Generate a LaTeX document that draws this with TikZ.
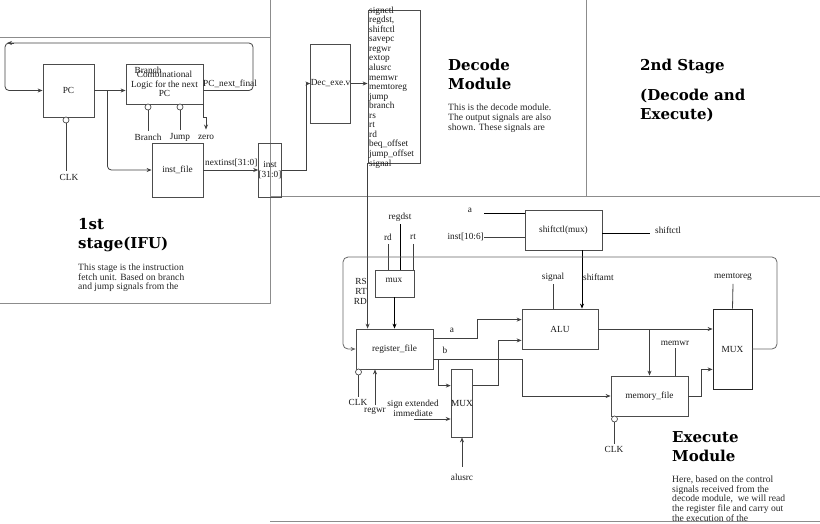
\documentclass[tikz,border=0pt]{standalone}
\usepackage{fontspec}
\setmainfont{Liberation Serif}
\newfontfamily\headfont{DejaVu Serif}
\usetikzlibrary{arrows.meta,calc}
\newcommand\smalllbl{\fontsize{9.3}{9.7}\selectfont}
\newcommand\siglist{\fontsize{9.3}{9.56}\selectfont}

\begin{document}
\begin{tikzpicture}[x=1pt,y=-1pt,
  region/.style={draw=black!45, line width=0.9pt},
  blk/.style={draw=black!70, line width=0.8pt, inner sep=0pt, font=\smalllbl, text=black!90},
  wire/.style={draw=black!75, line width=0.8pt},
  arr/.style={wire, -{Stealth[length=5pt,width=4pt]}},
  lbl/.style={font=\smalllbl, text=black!90, inner sep=0pt},
  bubble/.style={circle, draw=black!70, fill=white, line width=0.7pt, minimum size=6pt, inner sep=0pt},
  head/.style={font=\headfont\bfseries\fontsize{15}{19}\selectfont, align=left, anchor=north west, inner sep=0pt},
  para/.style={font=\fontsize{9.6}{9.8}\selectfont, text=black!85, align=left, anchor=north west, inner sep=0pt},
]
\useasboundingbox (0,0) rectangle (820,523);

% ---- stage borders ----
\draw[region] (0,37) -- (270,37);
\draw[region] (270,0) -- (270,303) -- (0,303);
\draw[region] (586,0) -- (586,196);
\draw[region] (270,196) -- (820,196);
\draw[region] (270,521) -- (820,521);

% ---- 1st stage: instruction fetch ----
\node[blk, minimum width=51pt, minimum height=53pt] (pc) at (68.5,90.5) {PC};
\node[blk, minimum width=77pt, minimum height=40pt, align=center] (comb) at (164.5,84) {Combinational\\Logic for the next\\PC};
\node[lbl] (combbr) at (148,70) {Branch};
\node[blk, minimum width=51pt, minimum height=54pt] (instfile) at (177.5,170) {inst\_file};
\node[blk, minimum width=20pt, minimum height=54pt, align=center] (inst) at (270,170) {inst\\{}[31:0]};

\node[lbl, anchor=west] (lpcnf) at (203,84) {PC\_next\_final};
\node[lbl, anchor=west] (lnext) at (205,163) {nextinst[31:0]};

\node[bubble] (pcclk) at (66,120) {};
\node[lbl] (clk1) at (69,177) {CLK};
\draw[wire] (pcclk.south) -- ($(pcclk.south |- clk1.north)+(0,-3)$);

\node[bubble] (bbr) at (148,107) {};
\node[bubble] (bj) at (180,107) {};
\node[lbl] (lbranch) at (148,137) {Branch};
\node[lbl] (ljump) at (180,137) {Jump};
\node[lbl] (lzero) at (206,137) {zero};
\draw[wire] (bbr.south) -- ($(bbr.south |- lbranch.north)+(0,-3)$);
\draw[wire] (bj.south) -- ($(bj.south |- ljump.north)+(0,-3)$);
\draw[arr] (comb.south east) -- ++(0,13) -| ($(lzero.north)+(0,-5)$);

\draw[arr] (pc.east) -- (comb.west |- pc.east);
\draw[arr, rounded corners=4pt] ($(pc.east)+(13,0)$) |- (instfile.west);
\draw[arr] (instfile.east) -- (inst.west);

\coordinate (fbR) at (253,43);
\coordinate (fbL) at (5,43);
\draw[arr, rounded corners=4pt] (comb.east |- pc.east) -| (fbR) -- (fbL) |- (pc.west);
\draw[wire, -{Stealth[length=5pt,width=4pt]}] ($(fbL)+(9,0)$) -- ($(fbL)+(2,0)$);

\node[head] (ifuhead) at (78,218.5) {1st\\stage(IFU)};
\node[para] (ifutext) at (78,263.5) {This stage is the instruction\\fetch unit. Based on branch\\and jump signals from the};

% ---- decode module ----
\node[blk, minimum width=39pt, minimum height=79pt] (dec) at (330.5,83.5) {Dec\_exe.v};
\node[blk, minimum width=52pt, minimum height=153pt] (sig) at (394,86.5) {};
\node[lbl, anchor=north west, align=left, font=\siglist] (siglist) at (369,6.5)
  {signctl\\regdst,\\shiftctl\\savepc\\regwr\\extop\\alusrc\\memwr\\memtoreg\\jump\\branch\\rs\\rt\\rd\\beq\_offset\\jump\_offset\\signal};

\draw[arr] (inst.east) -- ++(25,0) |- (dec.west);
\draw[arr] (dec.east) -- (dec.east -| sig.west);

\node[head] (dechead) at (448,59) {Decode\\Module};
\node[para] (dectext) at (448,104) {This is the decode module.\\The output signals are also\\shown. These signals are};

\node[head] (stagehead) at (640,59) {2nd Stage};
\node[head] (stagesub) at (640,89) {(Decode and\\Execute)};

% ---- execute module ----
\node[blk, minimum width=77pt, minimum height=40pt] (shiftmux) at (563.5,230) {shiftctl(mux)};
\node[blk, minimum width=39pt, minimum height=27pt] (mux) at (394.5,283.5) {};
\node[lbl] (muxlbl) at (394,280) {mux};
\node[blk, minimum width=77pt, minimum height=40pt] (regfile) at (394.5,349) {register\_file};
\node[blk, minimum width=20pt, minimum height=68pt] (lmux) at (462,403) {MUX};
\node[blk, minimum width=76pt, minimum height=40pt] (alu) at (560,329) {ALU};
\node[blk, minimum width=77pt, minimum height=40pt] (memfile) at (649.5,396) {memory\_file};
\node[blk, draw=black!85, minimum width=39pt, minimum height=80pt] (bmux) at (732.5,349) {MUX};

% signal list down to the register file
\draw[arr] (sig.south west) -- (sig.south west |- regfile.north);
\node[lbl, anchor=north east, align=right] (rsrtrd) at (367,278.5) {RS\\RT\\RD};

% destination register select
\node[lbl] (lregdst) at (400,217) {regdst};
\node[lbl] (lrd) at (388,237) {rd};
\node[lbl] (lrt) at (413,237) {rt};
\draw[wire] ($(lrd.south)+(0,4)$) -- (lrd.south |- mux.north);
\draw[wire, draw=black] ($(lregdst.south)+(0,3)$) -- (lregdst.south |- mux.north);
\draw[wire] ($(lrt.south)+(0,4)$) -- (lrt.south |- mux.north);
\draw[arr, draw=black] (mux.south) -- (mux.south |- regfile.north);

% shift control
\node[lbl] (lsa) at (470,210) {a};
\node[lbl, anchor=east] (linst) at (484,237) {inst[10:6]};
\coordinate (sain) at (484,213);
\draw[wire, draw=black] (sain) -- (sain -| shiftmux.west);
\draw[wire] (linst.east) -- (linst.east -| shiftmux.west);
\node[lbl, anchor=west] (lshiftctl) at (655,230) {shiftctl};
\draw[wire, draw=black] (shiftmux.east |- 0,233) -- ($(lshiftctl.west |- 0,233)+(-5,0)$);
\coordinate (shtop) at (582,250);
\draw[arr, draw=black] (shtop) -- (shtop |- alu.north);
\node[lbl, anchor=west] (lshamt) at (583,277) {shiftamt};
\node[lbl] (lsignal) at (553,277) {signal};
\draw[wire] ($(lsignal.south)+(0,3)$) -- (lsignal.south |- alu.north);

% register file outputs
\node[lbl] (la) at (452,330) {a};
\node[lbl] (lb) at (445,350) {b};
\draw[arr] ($(regfile.north east)+(0,10)$) -- ++(44,0) |- ($(alu.north west)+(0,11)$);
\draw[arr] ($(regfile.south east)+(0,-10)$) -- ++(89,0) |- (memfile.west);
\draw[arr] ($(regfile.south east)+(0,-10)+(5,0)$) |- ($(lmux.north west)+(0,17)$);
\draw[arr] ($(lmux.north east)+(0,17)$) -- ++(25,0) |- ($(alu.south west)+(0,-9)$);

% ALU source select
\node[lbl, align=center] (lsext) at (413,408) {sign extended\\immediate};
\coordinate (sextin) at (414,419);
\draw[arr] (sextin) -- (sextin -| lmux.west);
\node[lbl] (lalusrc) at (462,477) {alusrc};
\draw[arr] ($(lalusrc.north)+(0,-7)$) -- (lmux.south);

% register file clock and write enable
\node[bubble] (rfclk) at (358.5,372) {};
\node[lbl] (clk2) at (358,402) {CLK};
\draw[wire] (rfclk.south) -- ($(rfclk.south |- clk2.north)+(0,-2)$);
\node[lbl] (lregwr) at (375,411) {regwr};
\draw[arr] ($(lregwr.north)+(0,-2)$) -- (lregwr.north |- regfile.south);

% ALU result, memory and write-back select
\draw[arr] (alu.east) -- (alu.east -| bmux.west);
\draw[arr] (memfile.north |- alu.east) -- (memfile.north);
\node[lbl] (lmemwr) at (675,343) {memwr};
\draw[wire] ($(lmemwr.south)+(0,3)$) -- (lmemwr.south |- memfile.north);
\draw[arr] (memfile.east) -- ++(13,0) |- ($(bmux.south west)+(0,-20)$);
\node[lbl] (lmemtoreg) at (733,277) {memtoreg};
\draw[wire] ($(lmemtoreg.south)+(0,3)$) -- (bmux.north);

\node[bubble] (mfclk) at (614.5,419) {};
\node[lbl] (clk3) at (614,449) {CLK};
\draw[wire] (mfclk.south) -- ($(mfclk.south |- clk3.north)+(0,-2)$);

% write-back loop to the register file
\coordinate (loopR) at (777,257);
\coordinate (loopL) at (343,257);
\draw[arr, draw=black!60, rounded corners=5pt] (bmux.east) -| (loopR) -- (loopL) |- (regfile.west);

\node[head] (exehead) at (672,431.5) {Execute\\Module};
\node[para] (exetext) at (672,475.5) {Here, based on the control\\signals received from the\\decode module,\ \ we will read\\the register file and carry out\\the execution of the};
\end{tikzpicture}
\end{document}
